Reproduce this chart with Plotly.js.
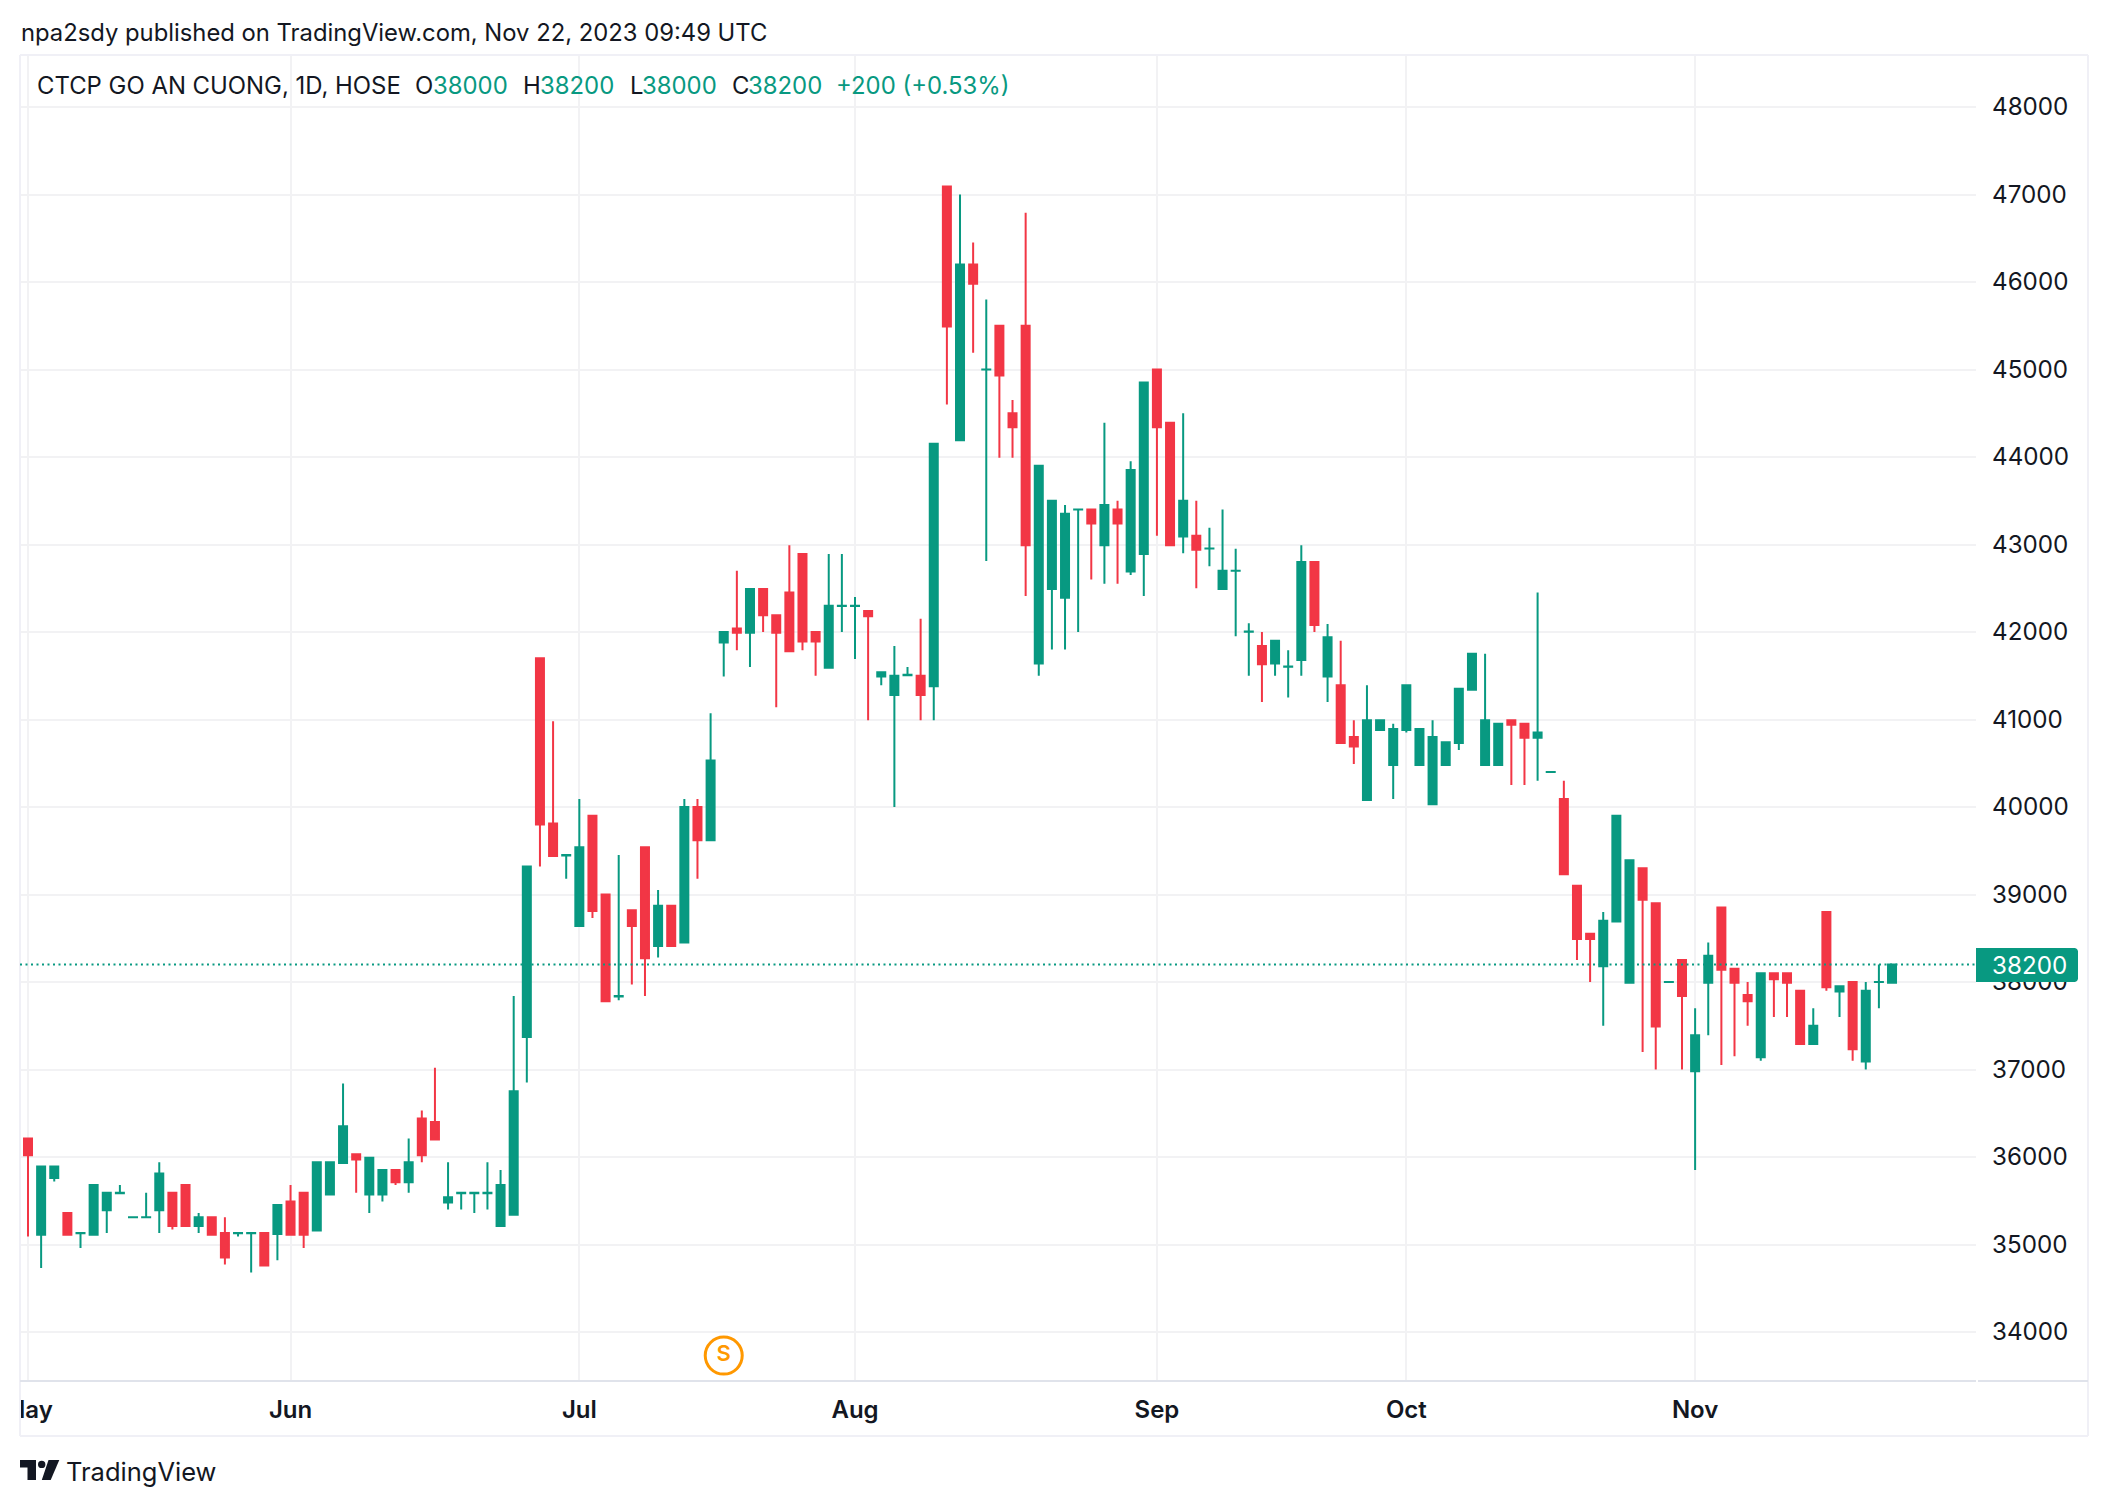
<!DOCTYPE html>
<html>
<head>
<meta charset="utf-8">
<script src="https://cdn.plot.ly/plotly-3.0.1.min.js"></script>
<style>html,body{margin:0;padding:0;background:#fff}#chart{width:2108px;height:1506px}</style>
</head>
<body>
<div id="chart"></div>
<script>
const open_ = [36210,35110,35760,35360,35129,35110,35390,35585,35310,35310,35390,35590,35680,35210,35310,35130,35129,35129,35130,35120,35490,35590,35160,35570,35930,36030,35570,35570,35850,35710,36440,36400,35480,35585,35585,35585,35210,35340,37370,41700,39810,39447,38640,39900,39000,37835,38820,39540,38410,38870,38450,40000,39620,41880,42040,41990,42490,42190,42450,42890,42000,41590,42296,42296,42240,41490,41280,41505,41500,41380,47090,44190,46200,44999,45500,44500,45500,41640,42490,42390,43399,43400,42990,43400,42690,42890,45000,44390,43090,43100,42954,42490,42699,42004,41840,41640,41604,41680,42800,41490,41390,40800,40080,40880,40480,40880,40480,40030,40480,40730,41340,40480,40480,40990,40950,40790,40400,40090,39100,38550,38180,38690,37990,39300,38900,38000,38250,36980,37990,38850,38150,37850,37140,38100,38100,37900,37290,38800,37890,38000,37090,37999,37990];
const high_ = [36210,35890,35890,35360,35130,35680,35590,35680,35310,35590,35940,35590,35680,35360,35310,35310,35130,35130,35130,35450,35680,35590,35940,35940,36840,36030,35990,35850,35850,36210,36530,37020,35940,35590,35590,35940,35850,37840,39320,41700,40980,39450,40090,39900,39000,39450,38820,39540,39050,38870,40090,40090,41070,42000,42700,42490,42490,42190,42990,42890,42000,42890,42890,42400,42240,41540,41840,41600,42150,44150,47090,47000,46450,45800,45500,44650,46790,43900,43500,43450,43400,43400,44390,43500,43950,44850,45000,44390,44500,43500,43190,43400,42950,42100,42000,41900,41790,42990,42800,42090,41900,40990,41390,40990,40950,41390,40890,40990,40740,41350,41750,41750,40950,40990,40950,42450,40400,40300,39100,38550,38800,39900,39390,39300,38900,38000,38250,37700,38450,38850,38150,38000,38100,38100,38100,37900,37700,38800,37950,38000,38000,38200,38200];
const low_ = [35090,34730,35720,35110,34960,35110,35130,35580,35310,35310,35130,35170,35210,35130,35110,34770,35090,34680,34760,34820,35110,34960,35160,35570,35930,35590,35360,35490,35680,35590,35940,36200,35400,35400,35360,35400,35210,35340,36850,39320,39440,39180,38640,38730,37780,37790,37970,37840,38280,38410,38450,39180,39620,41490,41790,41600,42000,41140,41780,41790,41500,41590,42000,41690,40990,41390,40000,41500,40990,40990,44600,44190,45190,42810,43990,43990,42410,41500,41800,41800,42000,42600,42550,42550,42650,42410,43100,42990,42900,42500,42750,42490,41950,41500,41200,41500,41250,41500,42000,41200,40730,40490,40080,40880,40090,40850,40480,40030,40480,40650,41340,40480,40480,40250,40250,40300,40400,39230,38250,38000,37500,38690,37990,37200,37000,38000,37000,35850,37390,37050,37150,37500,37100,37600,37600,37290,37290,37900,37600,37100,37000,37700,37990];
const close_ = [36020,35890,35890,35110,35130,35680,35590,35590,35311,35311,35810,35210,35210,35310,35110,34850,35130,35130,34760,35450,35110,35110,35940,35940,36350,35970,35990,35850,35710,35940,36020,36200,35540,35590,35590,35590,35680,36750,39320,39800,39440,39450,39540,38810,37780,37840,38640,38270,38870,38410,40000,39620,40530,42000,41990,42490,42190,41990,41780,41890,41890,42300,42300,42300,42180,41540,41500,41510,41280,44150,45490,46200,45980,45000,44930,44340,42990,43900,43500,43350,43400,43240,43450,43240,43850,44850,44340,42990,43500,42940,42955,42700,42700,42005,41630,41900,41605,42800,42080,41940,40730,40690,40990,40990,40890,41390,40890,40800,40740,41350,41750,40990,40950,40940,40790,40850,40401,39230,38490,38490,38700,39900,39390,38940,37490,38001,37840,37390,38300,38140,37990,37780,38100,38030,37990,37290,37500,37940,37950,37230,37900,38000,38200];
const monthPositions = [0,20,42,63,86,105,127];
const monthLabels = ["May","Jun","Jul","Aug","Sep","Oct","Nov"];
const priceTicks = [34000,35000,36000,37000,38000,39000,40000,41000,42000,43000,44000,45000,46000,47000,48000];
const lastPrice = 38200;
const splitIndex = [53];
const splitLevel = [33730];

const UP = "#089981", DOWN = "#F23645", INK = "#131722", GRID = "#f2f2f4", FRAME = "#f0f0f6", AXIS = "#e0e3eb", FONT = "Inter, sans-serif";
const X = p => (p - 20) / 1956, Y = p => (1381 - p) / 1327;
const indices = open_.map((_, i) => i);

const legendParts = [
  ["CTCP GO AN CUONG, 1D, HOSE", 36, INK], ["O", 414, INK], ["38000", 432, UP], ["H", 522, INK], ["38200", 539, UP],
  ["L", 629, INK], ["38000", 641, UP], ["C", 731, INK], ["38200", 747, UP], ["+200 (+0.53%)", 835, UP]
];
const note = (text, px, py, size, color, anchor, extra) => Object.assign({
  text, xref: "paper", yref: "paper", x: X(px), y: Y(py), xanchor: anchor || "left", yanchor: "middle",
  showarrow: false, borderpad: 0, font: {family: FONT, size, color}
}, extra || {});

const paperRect = (a, b, c, d, fill) => ({type: "rect", xref: "paper", yref: "paper", x0: X(a), x1: X(b), y0: Y(c), y1: Y(d), fillcolor: fill, line: {width: 0}, layer: "above"});
const paperLine = (a, c, b, d, color) => ({type: "line", xref: "paper", yref: "paper", x0: X(a), x1: X(b), y0: Y(c), y1: Y(d), line: {color, width: 2}, layer: "above"});
const paperPath = (pts, fill) => ({type: "path", xref: "paper", yref: "paper", path: "M" + pts.map(q => X(q[0]) + "," + Y(q[1])).join("L") + "Z", fillcolor: fill, line: {width: 0}, layer: "above"});

const shapes = [
  paperRect(0, 19, 1383, 1434, "#ffffff"),
  paperLine(20, 55, 2088, 55, FRAME),
  paperLine(20, 1436, 2088, 1436, FRAME),
  paperLine(20, 55, 20, 1436, FRAME),
  paperLine(2088, 55, 2088, 1436, FRAME),
  paperLine(20, 1381, 1976, 1381, AXIS),
  paperLine(1978, 1381, 2088, 1381, AXIS),
  {type: "line", xref: "paper", yref: "y", x0: 0, x1: 1, y0: lastPrice, y1: lastPrice, line: {color: UP, width: 2, dash: "2px,3.5px"}, layer: "above"},
  paperPath([[1976,948],[2075,948],[2077,949],[2078,951],[2078,979],[2077,981],[2075,982],[1976,982]], UP),
  paperPath([[20,1460],[36,1460],[36,1480],[27.5,1480],[27.5,1467.5],[20,1467.5]], INK),
  {type: "circle", xref: "paper", yref: "paper", x0: X(38), x1: X(45.4), y0: Y(1460.7), y1: Y(1468.1), fillcolor: INK, line: {width: 0}, layer: "above"},
  paperPath([[48.5,1460],[59.3,1460],[50.7,1480],[41.8,1480]], INK)
];

const annotations = [
  note("npa2sdy published on TradingView.com, Nov 22, 2023 09:49 UTC", 20, 32, 23.8, INK),
  note("TradingView", 65, 1471.5, 25.5, INK),
  note(String(lastPrice), 1991, 965, 24.2, "#ffffff")
].concat(legendParts.map(p => note(p[0], p[1], 85.5, 23.9, p[2])));

Plotly.newPlot("chart", [
  {type: "candlestick", x: indices, open: open_, high: high_, low: low_, close: close_, whiskerwidth: 0,
   increasing: {line: {color: UP, width: 2}, fillcolor: UP},
   decreasing: {line: {color: DOWN, width: 2}, fillcolor: DOWN}, hoverinfo: "skip"},
  {type: "scatter", mode: "markers+text", x: splitIndex, y: splitLevel, text: ["S"], textposition: "middle center",
   textfont: {family: FONT, size: 22, color: "#ff9800", weight: 600},
   marker: {symbol: "circle", size: 37, color: "#ffffff", line: {color: "#ff9800", width: 3}}, cliponaxis: false, hoverinfo: "skip"}
], {
  width: 2108, height: 1506, autosize: false, showlegend: false,
  paper_bgcolor: "#ffffff", plot_bgcolor: "#ffffff", boxgap: 0.39, boxgroupgap: 0,
  margin: {l: 20, r: 132, t: 54, b: 125, pad: 0},
  xaxis: {range: [-0.6094, 148.397], tickmode: "array", tickvals: monthPositions, ticktext: monthLabels,
    showgrid: true, gridcolor: GRID, gridwidth: 2, zeroline: false, showline: false, ticks: "", rangeslider: {visible: false},
    tickfont: {family: FONT, size: 24, color: INK, weight: 600}, ticklabelstandoff: 12, tickangle: 0},
  yaxis: {range: [33440, 48605.7], side: "right", tickmode: "array", tickvals: priceTicks, tickformat: "d",
    showgrid: true, gridcolor: GRID, gridwidth: 2, zeroline: false, showline: false, ticks: "",
    tickfont: {family: FONT, size: 24.2, color: INK}, ticklabelstandoff: 15},
  shapes, annotations, hovermode: false
}, {displayModeBar: false, staticPlot: true});
</script>
</body>
</html>
